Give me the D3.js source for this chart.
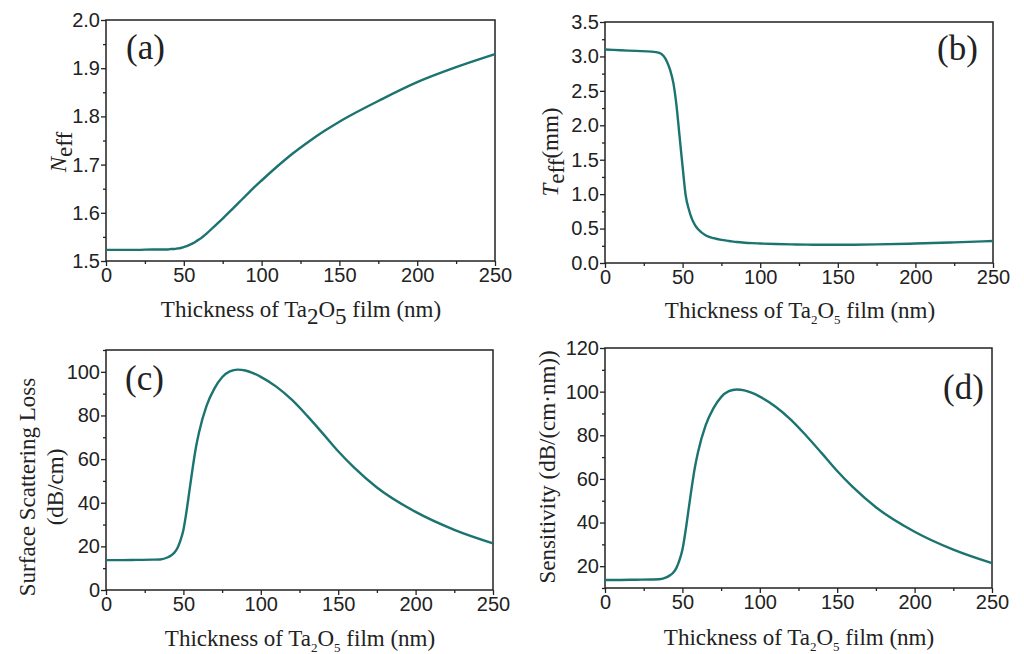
<!DOCTYPE html>
<html lang="en">
<head>
    <meta charset="UTF-8">
    <script src="https://d3js.org/d3.v7.min.js"></script>
    <title>Ta2O5 film</title>
    <style>
        body{ margin:0; background:#fff; }
        .tick text{ font-family: "Liberation Sans", Arial, sans-serif; font-size: 20px; fill:#222; }
        .ttl{ font-family: "Liberation Serif", "Times New Roman", serif; font-size: 23px; fill:#222; }
        .lab{ font-family: "Liberation Serif", "Times New Roman", serif; font-size: 35px; fill:#222; }
    </style>
</head>
<body>
    <script>
        // thickness of the Ta2O5 film (nm), shared by all four panels
        const thickness = [0, 10, 20, 30, 35, 40, 42, 44, 46, 48, 50, 52, 54, 56, 58, 60, 65, 70, 75, 80,
            85, 90, 95, 100, 110, 120, 130, 140, 150, 160, 175, 200, 225, 250];

        const neff = [1.523, 1.523, 1.523, 1.524, 1.524, 1.524, 1.525, 1.525, 1.526, 1.527, 1.529, 1.531, 1.534,
            1.537, 1.541, 1.545, 1.558, 1.573, 1.588, 1.604, 1.620, 1.636, 1.652, 1.667, 1.696, 1.723, 1.747,
            1.769, 1.789, 1.807, 1.832, 1.871, 1.902, 1.929];

        const teff = [3.10, 3.09, 3.08, 3.07, 3.05, 2.92, 2.80, 2.62, 2.30, 1.85, 1.40, 0.98, 0.78, 0.64, 0.55,
            0.49, 0.40, 0.36, 0.335, 0.32, 0.305, 0.295, 0.288, 0.283, 0.275, 0.27, 0.267, 0.265, 0.265, 0.266,
            0.27, 0.283, 0.30, 0.32];

        const loss = [13.7, 13.7, 13.8, 13.9, 14.0, 15.0, 15.8, 17.0, 19.0, 22.5, 27.5, 36, 46, 56, 65, 72,
            84.5, 92.3, 97.5, 100.2, 101.0, 100.6, 99.4, 97.7, 93.2, 87.2, 79.8, 71.8, 63.6, 56.3, 47.0, 35.8,
            27.6, 21.4];

        const sensitivity = [13.7, 13.7, 13.8, 13.9, 14.0, 15.0, 15.8, 17.0, 19.0, 22.5, 27.5, 36, 46, 56, 65, 72,
            84.5, 92.3, 97.5, 100.2, 101.0, 100.6, 99.4, 97.7, 93.2, 87.2, 79.8, 71.8, 63.6, 56.3, 47.0, 35.8,
            27.6, 21.4];

        const xTicks = [0, 50, 100, 150, 200, 250];
        const neffTicks = [1.5, 1.6, 1.7, 1.8, 1.9, 2.0];
        const teffTicks = [0, 0.5, 1.0, 1.5, 2.0, 2.5, 3.0, 3.5];
        const lossTicks = [0, 20, 40, 60, 80, 100];
        const sensTicks = [20, 40, 60, 80, 100, 120];

        const lineColor = '#1b7470';
        const axisColor = '#222';

        const width = 1024, height = 654;
        const svg = d3.select('body').append('svg')
            .attr('width', width).attr('height', height);

        const panels = [
            {key: 'a', values: neff, yDomain: [1.5, 2.0], yTicks: neffTicks, yMinor: 0.05, fmt: d3.format('.1f'),
             box: {l: 106, r: 495, t: 20, b: 261}, label: [126, 59]},
            {key: 'b', values: teff, yDomain: [0, 3.5], yTicks: teffTicks, yMinor: 0.25, fmt: d3.format('.1f'),
             box: {l: 605, r: 993, t: 22, b: 263}, label: [937, 60]},
            {key: 'c', values: loss, yDomain: [0, 110], yTicks: lossTicks, yMinor: 10, fmt: d3.format('d'),
             box: {l: 106, r: 493, t: 350, b: 590}, label: [125, 390]},
            {key: 'd', values: sensitivity, yDomain: [10, 120], yTicks: sensTicks, yMinor: 10, fmt: d3.format('d'),
             box: {l: 605, r: 992, t: 348, b: 588}, label: [943, 399]}
        ];

        panels.forEach(p => {
            const g = svg.append('g');
            const x = d3.scaleLinear().domain([0, 250]).range([p.box.l, p.box.r]);
            const y = d3.scaleLinear().domain(p.yDomain).range([p.box.b, p.box.t]);

            // minor ticks halfway between the labelled ones
            const xMinor = d3.range(25, 250, 50);
            const yMinor = d3.range(p.yDomain[0], p.yDomain[1] + 1e-9, p.yMinor)
                .filter(v => !p.yTicks.some(t => Math.abs(t - v) < 1e-6));

            g.append('g').attr('transform', `translate(0,${p.box.b})`)
                .call(d3.axisBottom(x).tickValues(xMinor).tickSize(3).tickFormat(''));
            g.append('g').attr('transform', `translate(${p.box.l},0)`)
                .call(d3.axisLeft(y).tickValues(yMinor).tickSize(3).tickFormat(''));

            g.append('g').attr('transform', `translate(0,${p.box.b})`)
                .call(d3.axisBottom(x).tickValues(xTicks).tickSize(5).tickPadding(2).tickSizeOuter(0));
            g.append('g').attr('transform', `translate(${p.box.l},0)`)
                .call(d3.axisLeft(y).tickValues(p.yTicks).tickFormat(p.fmt).tickSize(5).tickPadding(1).tickSizeOuter(0));

            g.selectAll('.domain').remove();
            g.selectAll('.tick line').attr('stroke', axisColor).attr('stroke-width', 1.3);

            // frame
            g.append('rect')
                .attr('x', p.box.l).attr('y', p.box.t)
                .attr('width', p.box.r - p.box.l).attr('height', p.box.b - p.box.t)
                .attr('fill', 'none').attr('stroke', axisColor).attr('stroke-width', 1.5);

            const line = d3.line()
                .x((d, i) => x(thickness[i]))
                .y(d => y(d))
                .curve(d3.curveMonotoneX);

            g.append('path')
                .datum(p.values)
                .attr('d', line)
                .attr('fill', 'none')
                .attr('stroke', lineColor)
                .attr('stroke-width', 2.4);

            g.append('text').attr('class', 'lab')
                .attr('x', p.label[0]).attr('y', p.label[1])
                .text(`(${p.key})`);

            p.g = g;
        });

        // x titles
        function xTitle(p, cx, base, fullSub) {
            const t = p.g.append('text').attr('class', 'ttl')
                .attr('x', cx).attr('y', base).attr('text-anchor', 'middle');
            const sub = fullSub ? {size: '23px', dy: 7} : {size: '13px', dy: 6};
            t.append('tspan').text('Thickness of Ta');
            t.append('tspan').attr('dy', sub.dy).style('font-size', sub.size).text('2');
            t.append('tspan').attr('dy', -sub.dy).text('O');
            t.append('tspan').attr('dy', sub.dy).style('font-size', sub.size).text('5');
            t.append('tspan').attr('dy', -sub.dy).text(' film (nm)');
        }
        xTitle(panels[0], 301, 317, true);
        xTitle(panels[1], 800, 318, false);
        xTitle(panels[2], 300, 646, false);
        xTitle(panels[3], 799, 645, false);

        // y titles
        const ya = svg.append('text').attr('class', 'ttl')
            .attr('transform', 'translate(66,152) rotate(-90)').attr('text-anchor', 'middle');
        ya.append('tspan').style('font-style', 'italic').text('N');
        ya.append('tspan').attr('dy', 6).text('eff');

        const yb = svg.append('text').attr('class', 'ttl')
            .attr('transform', 'translate(558,152) rotate(-90)').attr('text-anchor', 'middle');
        yb.append('tspan').style('font-style', 'italic').text('T');
        yb.append('tspan').attr('dy', 6).text('eff');
        yb.append('tspan').attr('dy', -6).text('(mm)');

        svg.append('text').attr('class', 'ttl')
            .attr('transform', 'translate(35,487) rotate(-90)').attr('text-anchor', 'middle')
            .text('Surface Scattering Loss');
        svg.append('text').attr('class', 'ttl')
            .attr('transform', 'translate(63,487) rotate(-90)').attr('text-anchor', 'middle')
            .text('(dB/cm)');

        svg.append('text').attr('class', 'ttl')
            .attr('transform', 'translate(555,467) rotate(-90)').attr('text-anchor', 'middle')
            .text('Sensitivity (dB/(cm\u00b7nm))');
    </script>
</body>
</html>
